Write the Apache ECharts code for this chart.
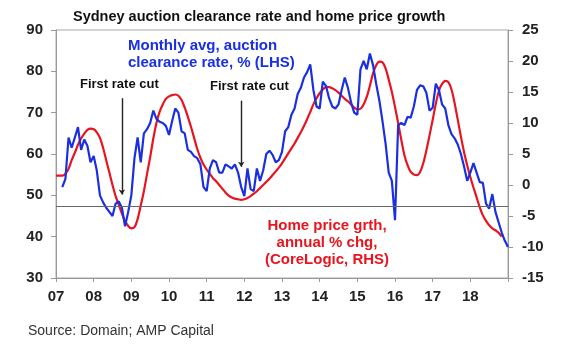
<!DOCTYPE html>
<html>
<head>
<meta charset="utf-8">
<script src="https://cdn.jsdelivr.net/npm/echarts@6/dist/echarts.min.js"></script>
<style>
  html, body { margin: 0; padding: 0; background: #fff; }
  #chart { width: 580px; height: 352px; }
</style>
</head>
<body>
<div id="chart"></div>
<script>
const FONT = 'Liberation Sans, Arial, sans-serif'
const BLUE = '#1a2fe2'
const RED = '#e8141e'

// year tick labels
const yearLabels = ['07', '08', '09', '10', '11', '12', '13', '14', '15', '16', '17', '18']

// monthly categories, Jan 2007 .. Jan 2019
const months = []
yearLabels.forEach(y => {
  for (let m = 1; m <= 12; m++) months.push(y + '-' + (m < 10 ? '0' + m : '' + m))
})
months.push('19-01')

// Sydney auction clearance rate, monthly avg, % (LHS)
const clearance = [
  null, null, 52, 54, 64, 61.5, 64, 66.5, 61, 63.5, 62, 58,
  59.5, 56, 50, 48.3, 47, 46, 45, 48, 48.5, 47, 42.5, 46,
  50, 59, 64, 58, 65, 66, 67.5, 70.5, 68.5, 67.8, 67.5, 66.8,
  64.6, 68, 71, 70, 65.5, 65, 61, 60.5, 59.5, 59, 57.5, 52,
  51, 56.5, 58.5, 58, 55.5, 55.5, 57.5, 57, 56.5, 57.5, 55.5, 52,
  49.8, 56.5, 51.5, 51, 56.5, 53.5, 56, 60, 60.8, 59.8, 58, 58.5,
  60.5, 65.5, 66.5, 69.5, 71, 74.5, 76, 78.5, 79.8, 81.7, 75.5, 71.5,
  71, 77.5, 76.5, 73.5, 71.5, 71, 72, 75.5, 78.5, 76, 72.5, 70,
  69.5, 80.5, 82.5, 80.5, 84.3, 81.5, 77, 73, 68, 62.5, 55.5, 53.5,
  44, 67, 67.5, 67, 69, 68.8, 71.5, 75.5, 76.6, 76.4, 74.8, 70.5,
  71.2, 77, 75.5, 72, 71, 67, 64.8, 63.8, 62.3, 60, 57, 53.5,
  55.5, 57.8, 55.5, 53.2, 53, 48, 46.8, 50.3, 46, 43.5, 41, 39,
  37.5
]

// home price growth, annual % chg (RHS)
const priceGrowth = [
  1.5, 1.5, 1.5, 1.8, 2.6, 4, 5.2, 6.5, 7.5, 8.3, 8.9, 9.1,
  9, 8.5, 7.6, 6, 4, 2, 0, -1.8, -3.2, -4.6, -5.8, -6.6,
  -7, -6.8, -5.5, -3.3, -1, 1.8, 4.5, 7.5, 10, 11.8, 13, 13.9,
  14.3, 14.5, 14.6, 14.4, 13.7, 12.5, 11, 9.4, 7.6, 5.8, 4.4, 3.3,
  2.5, 1.8, 1.1, 0.6, 0, -0.6, -1.2, -1.7, -2, -2.2, -2.3, -2.4,
  -2.3, -2.1, -1.8, -1.4, -1, -0.5, 0, 0.5, 1, 1.6, 2.2, 2.8,
  3.5, 4.3, 5.1, 5.9, 6.7, 7.6, 8.5, 9.5, 10.6, 11.8, 13, 14,
  14.8, 15.4, 15.8, 15.8, 15.6, 15.3, 14.9, 14.4, 13.9, 13.5, 13, 12.5,
  12.2, 12.3, 13, 14.2, 16, 18, 19.3, 19.9, 19.8, 18.8, 17, 15,
  12.6, 10, 7.3, 4.8, 3.2, 2.1, 1.7, 1.6, 2.1, 3.5, 5.6, 8,
  10.5, 13.1, 15.2, 16.3, 16.8, 16.6, 15.4, 13.2, 10.5, 7.8, 5.3, 3.2,
  1.3, -0.4, -2, -3.6, -4.9, -5.8, -6.5, -7, -7.3, -7.7, -8.3, null,
  null
]

// first rate cuts (Sep 2008, Nov 2011)
const rateCuts = [['08-10', 73.5, 50.2], ['11-12', 72.9, 56.9]]
const avgClearance = 47.4

const isJan = (i, v) => v.slice(3) === '01'

const chart = echarts.init(document.getElementById('chart'))
chart.setOption({
  animation: false,
  title: {
    text: 'Sydney auction clearance rate and home price growth',
    left: 73, top: 9, padding: 0,
    textStyle: { fontFamily: FONT, fontSize: 14.5, fontWeight: 'bold', color: '#111' }
  },
  grid: { left: 56, right: 72, top: 30, bottom: 74, show: true, borderColor: '#a8a8a8', borderWidth: 1 },
  xAxis: {
    type: 'category',
    data: months,
    boundaryGap: false,
    axisLine: { onZero: false, lineStyle: { color: '#999' } },
    axisTick: { interval: isJan, length: 4, lineStyle: { color: '#999' } },
    axisLabel: {
      interval: (i, v) => isJan(i, v) && v !== '19-01',
      formatter: v => v.slice(0, 2),
      fontFamily: FONT, fontSize: 15, fontWeight: 'bold', color: '#222', margin: 11
    },
    splitLine: { show: false }
  },
  yAxis: [
    {
      type: 'value', min: 30, max: 90, interval: 10, position: 'left',
      axisLine: { show: true, lineStyle: { color: '#999' } },
      axisTick: { show: true, length: 5, lineStyle: { color: '#999' } },
      axisLabel: { fontFamily: FONT, fontSize: 15, fontWeight: 'bold', color: '#222', margin: 13 },
      splitLine: { show: false }
    },
    {
      type: 'value', min: -15, max: 25, interval: 5, position: 'right',
      axisLine: { show: true, lineStyle: { color: '#999' } },
      axisTick: { show: true, length: 5, lineStyle: { color: '#999' } },
      axisLabel: { fontFamily: FONT, fontSize: 15, fontWeight: 'bold', color: '#222', margin: 14 },
      splitLine: { show: false }
    }
  ],
  series: [
    {
      name: 'Home price growth',
      type: 'line',
      yAxisIndex: 1,
      data: priceGrowth,
      showSymbol: false,
      smooth: 0.3,
      lineStyle: { color: RED, width: 2.2 }
    },
    {
      name: 'Clearance rate',
      type: 'line',
      yAxisIndex: 0,
      data: clearance,
      showSymbol: false,
      lineStyle: { color: BLUE, width: 2.2 },
      markLine: {
        silent: true,
        symbol: ['none', 'none'],
        label: { show: false },
        lineStyle: { color: '#222', width: 1.4, type: 'solid' },
        data: [
          { yAxis: avgClearance, lineStyle: { color: '#666', width: 1, type: 'solid' } },
          ...rateCuts.map(c => [
            { coord: [c[0], c[1]], symbol: 'none' },
            { coord: [c[0], c[2]], symbol: 'arrow', symbolSize: 5 }
          ])
        ]
      }
    }
  ],
  graphic: [
    { type: 'text', left: 80, top: 78, style: { text: 'First rate cut', font: 'bold 13px ' + FONT, fill: '#111' } },
    { type: 'text', left: 210, top: 80, style: { text: 'First rate cut', font: 'bold 13px ' + FONT, fill: '#111' } },
    {
      type: 'text', left: 128, top: 37,
      style: { text: 'Monthly avg, auction\nclearance rate, % (LHS)', font: 'bold 15px ' + FONT, fill: BLUE, lineHeight: 17 }
    },
    {
      type: 'text', x: 327, y: 217,
      style: { text: 'Home price grth,\nannual % chg,\n(CoreLogic, RHS)', font: 'bold 15px ' + FONT, fill: RED, lineHeight: 17, textAlign: 'center' }
    },
    { type: 'text', left: 28, top: 324, style: { text: 'Source: Domain; AMP Capital', font: '14px ' + FONT, fill: '#333' } }
  ]
})
</script>
</body>
</html>
